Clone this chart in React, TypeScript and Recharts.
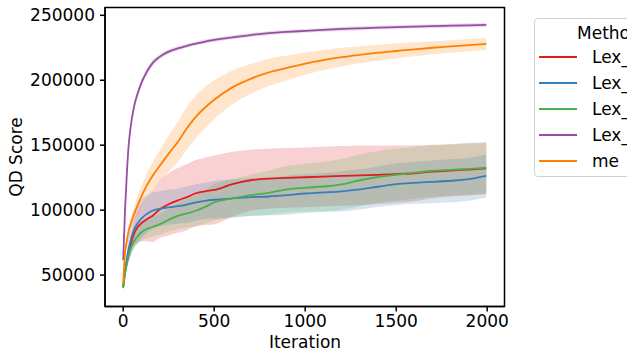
import { ComposedChart, Line, Area, XAxis, YAxis, ReferenceArea } from 'recharts'

const iterations = [0, 10, 20, 30, 40, 60, 80, 100, 130, 160, 200, 250, 300, 350, 400, 450, 500, 600, 700, 800, 900, 1000, 1100, 1200, 1300, 1400, 1500, 1600, 1700, 1800, 1900, 1995]

const redMean = [41000, 52000, 60000, 67000, 73000, 82000, 87000, 90000, 93000, 95500, 100500, 104500, 107500, 110000, 113000, 114500, 115500, 120000, 123000, 124300, 124800, 125300, 125800, 126300, 126800, 127200, 127700, 128400, 129700, 130500, 131200, 132100]
const redSpread = [2000, 4000, 5500, 6500, 7500, 9500, 12000, 14000, 17000, 20000, 22000, 24000, 25000, 25500, 25500, 26000, 26500, 25000, 23500, 23000, 23000, 23000, 23000, 23000, 23000, 22500, 22000, 21500, 20500, 20000, 20000, 19500]

const blueMean = [41000, 53000, 62000, 70000, 76000, 85000, 90000, 93500, 97000, 99500, 101000, 102200, 103000, 104300, 106000, 107200, 108000, 109000, 110000, 110500, 111500, 112800, 113600, 114500, 116000, 118000, 120000, 121000, 121800, 122600, 123800, 126300]
const blueSpread = [2000, 5000, 8000, 10000, 12000, 14000, 15000, 15000, 14500, 14000, 13500, 13500, 13500, 14000, 14000, 14000, 14500, 14500, 14500, 14500, 15000, 15000, 15000, 15500, 15500, 15500, 16000, 16000, 16500, 16500, 16500, 16500]

const greenMean = [40000, 51000, 59000, 65000, 70000, 76000, 80000, 83000, 85500, 87000, 89000, 92500, 95500, 97500, 99500, 102500, 106000, 109000, 111500, 113300, 116000, 117200, 118200, 119800, 123000, 125500, 127200, 128800, 130300, 131000, 131800, 132500]
const greenSpread = [1500, 3000, 4000, 4500, 5000, 5500, 6000, 6500, 7000, 7500, 8000, 9000, 10000, 11000, 12000, 13000, 14000, 15000, 16000, 17000, 18000, 18500, 19000, 19500, 20000, 20000, 20000, 20000, 20000, 20000, 20000, 20000]

const purpleMean = [61500, 100000, 128000, 150000, 163000, 180000, 190000, 198000, 206500, 213000, 218000, 222000, 224500, 226500, 228200, 229800, 231000, 233000, 234800, 236200, 237200, 238000, 238800, 239500, 240000, 240500, 240900, 241300, 241700, 242000, 242300, 242600]
const purpleSpread = [1000, 2000, 2500, 3000, 3000, 3000, 3000, 2800, 2500, 2200, 2000, 1800, 1600, 1500, 1500, 1500, 1500, 1500, 1500, 1500, 1500, 1500, 1500, 1500, 1500, 1500, 1500, 1500, 1500, 1500, 1500, 1500]

const orangeMean = [43600, 67000, 76000, 84000, 89000, 97000, 104000, 110500, 119000, 126000, 134000, 143500, 152500, 163000, 172000, 179000, 185000, 194500, 201000, 206000, 209500, 212800, 215500, 217800, 219600, 221200, 222500, 223800, 225000, 226000, 227000, 228000]
const orangeSpread = [1000, 3000, 4000, 4500, 5000, 6000, 7000, 8000, 9500, 10500, 12000, 14000, 15500, 16500, 16500, 16000, 15000, 13000, 11500, 10500, 9500, 8500, 7800, 7200, 6600, 6200, 5800, 5400, 5000, 4800, 4600, 4500]

const xTicks = [0, 500, 1000, 1500, 2000]
const yTicks = [50000, 100000, 150000, 200000, 250000]
const xDomain: [number, number] = [-100, 2095]
const yDomain: [number, number] = [25800, 256000]

const series = [
  { key: 'red', name: 'Lex_lexicase', color: '#e41a1c', mean: redMean, spread: redSpread },
  { key: 'blue', name: 'Lex_lexicase', color: '#377eb8', mean: blueMean, spread: blueSpread },
  { key: 'green', name: 'Lex_lexicase', color: '#4daf4a', mean: greenMean, spread: greenSpread },
  { key: 'purple', name: 'Lex_lexicase', color: '#984ea3', mean: purpleMean, spread: purpleSpread },
  { key: 'orange', name: 'me', color: '#ff7f00', mean: orangeMean, spread: orangeSpread },
]

const data = iterations.map((it, i) => {
  const row: Record<string, number | number[]> = { it }
  series.forEach((s) => {
    row[s.key] = s.mean[i]
    row[s.key + 'Band'] = [s.mean[i] - s.spread[i], s.mean[i] + s.spread[i]]
  })
  return row
})

const font = '"DejaVu Sans", sans-serif'
const tickStyle = { fill: '#000', fontSize: 17, fontFamily: font }

export default function App() {
  return (
    <div style={{ position: 'absolute', left: 0, top: 0, width: 627, height: 359, overflow: 'hidden', background: '#fff', fontFamily: font }}>
      <ComposedChart width={627} height={359} data={data} margin={{ top: 7.5, right: 122.5, bottom: 0, left: 0 }}>
        <XAxis
          dataKey="it"
          type="number"
          domain={xDomain}
          ticks={xTicks}
          allowDataOverflow
          height={52.5}
          tick={tickStyle}
          tickSize={5}
          tickMargin={3}
          stroke="#000"
          strokeWidth={1.5}
        />
        <YAxis
          type="number"
          domain={yDomain}
          ticks={yTicks}
          allowDataOverflow
          width={105}
          tick={tickStyle}
          tickSize={5}
          tickMargin={5}
          stroke="#000"
          strokeWidth={1.5}
        />
        {series.map((s) => (
          <Area
            key={s.key + 'Band'}
            dataKey={s.key + 'Band'}
            type="monotone"
            stroke="none"
            fill={s.color}
            fillOpacity={0.2}
            isAnimationActive={false}
            dot={false}
            activeDot={false}
          />
        ))}
        {series.map((s) => (
          <Line
            key={s.key}
            dataKey={s.key}
            type="monotone"
            stroke={s.color}
            strokeWidth={1.8}
            dot={false}
            activeDot={false}
            isAnimationActive={false}
          />
        ))}
        <ReferenceArea x1={xDomain[0]} x2={xDomain[1]} y1={yDomain[0]} y2={yDomain[1]} fill="none" stroke="#000" strokeWidth={1.5} ifOverflow="visible" />
      </ComposedChart>
      <div style={{ position: 'absolute', left: 16, top: 157, transform: 'translate(-50%, -50%) rotate(-90deg)', fontSize: 17, whiteSpace: 'nowrap' }}>
        QD Score
      </div>
      <div style={{ position: 'absolute', left: 305, top: 342, transform: 'translate(-50%, -50%)', fontSize: 17, whiteSpace: 'nowrap' }}>
        Iteration
      </div>
      <div style={{ position: 'absolute', left: 534, top: 18, width: 170, height: 159, border: '1px solid #d0d0d0', borderRadius: 4, background: 'rgba(255,255,255,0.8)', boxSizing: 'border-box' }}>
        <div style={{ position: 'absolute', left: 42, top: 14, transform: 'translateY(-50%)', fontSize: 17, whiteSpace: 'nowrap' }}>Method</div>
        {series.map((s, i) => (
          <div key={s.key} style={{ position: 'absolute', left: 4, top: 38 + i * 26, transform: 'translateY(-50%)', display: 'flex', alignItems: 'center', whiteSpace: 'nowrap' }}>
            <span style={{ display: 'inline-block', width: 38, height: 2, background: s.color, marginRight: 15 }} />
            <span style={{ fontSize: 17 }}>{s.name}</span>
          </div>
        ))}
      </div>
    </div>
  )
}
